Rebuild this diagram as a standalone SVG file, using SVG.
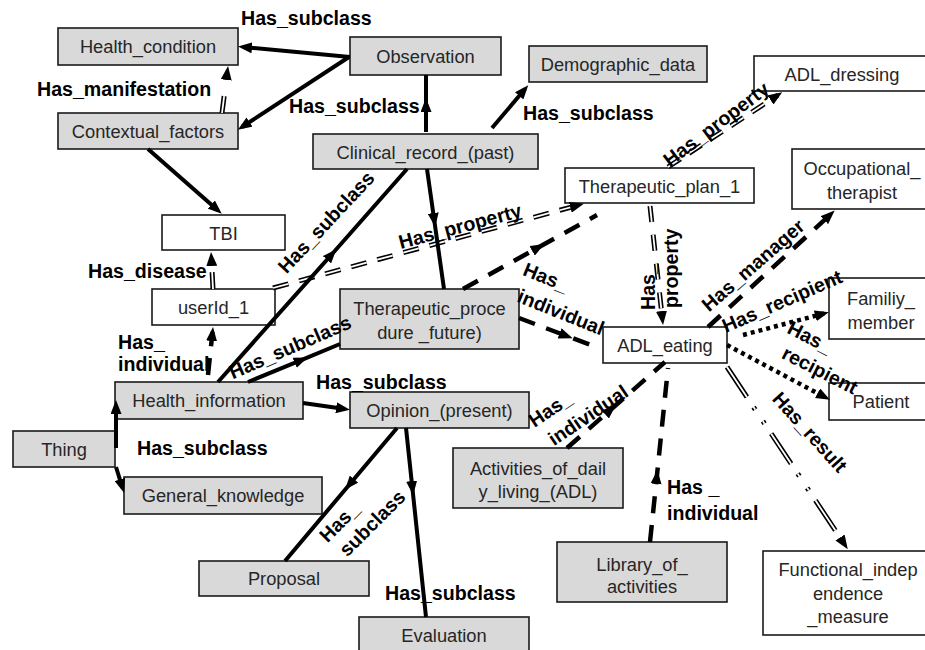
<svg xmlns="http://www.w3.org/2000/svg" width="925" height="650" viewBox="0 0 925 650">
<defs>
<marker id="a" viewBox="0 0 14 11" refX="9" refY="5.5" markerWidth="14" markerHeight="11" markerUnits="userSpaceOnUse" orient="auto"><path d="M0,0 L14,5.5 L0,11 z" fill="#000"/></marker>
<style>
.n rect{stroke:#1a1a1a;stroke-width:1.6}
.g rect{fill:#d9d9d9}
.w rect{fill:#fff}
.n text{font-family:"Liberation Sans",Arial,sans-serif;font-size:18.3px;fill:#262626;text-anchor:middle}
.lbl{font-family:"Liberation Sans",Arial,sans-serif;font-size:19.6px;font-weight:bold;fill:#000}
.c{text-anchor:middle}
.s{stroke:#000;stroke-width:4;fill:none}
.d{stroke:#000;stroke-width:4.5;fill:none;stroke-dasharray:17 12}
.dot{stroke:#000;stroke-width:4.5;fill:none;stroke-dasharray:4 4}
.dd{stroke:#000;stroke-width:5;fill:none}
.ddw{stroke:#fff;stroke-width:1.8;fill:none}
</style>
</defs>
<rect width="925" height="650" fill="#fff"/>

<g id="health_condition" class="n g"><rect x="58" y="28" width="180" height="37"/><text x="148" y="52.5">Health_condition</text></g>
<g id="contextual_factors" class="n g"><rect x="58" y="113" width="180" height="36"/><text x="148" y="137.5">Contextual_factors</text></g>
<g id="observation" class="n g"><rect x="350" y="37" width="151" height="38"/><text x="425.5" y="62.5">Observation</text></g>
<g id="demographic_data" class="n g"><rect x="529" y="46" width="178" height="36"/><text x="618" y="70.5">Demographic_data</text></g>
<g id="clinical_record" class="n g"><rect x="313" y="134" width="225" height="35"/><text x="425.5" y="158.5">Clinical_record_(past)</text></g>
<g id="adl_dressing" class="n w"><rect x="754" y="56" width="181" height="35"/><text x="842" y="80.5">ADL_dressing</text></g>
<g id="therapeutic_plan_1" class="n w"><rect x="565" y="168" width="189" height="35"/><text x="659.5" y="192.5">Therapeutic_plan_1</text></g>
<g id="occupational_therapist" class="n w"><rect x="792" y="149" width="143" height="60"/><text x="862" y="174.5">Occupational_</text><text x="862" y="198.5">therapist</text></g>
<g id="tbi" class="n w"><rect x="162" y="215" width="123" height="35"/><text x="223.5" y="239.5">TBI</text></g>
<g id="userid_1" class="n w"><rect x="152" y="289" width="123" height="36"/><text x="213.5" y="313.5">userId_1</text></g>
<g id="health_information" class="n g"><rect x="115" y="382" width="188" height="37"/><text x="209" y="406.5">Health_information</text></g>
<g id="thing" class="n g"><rect x="13" y="431" width="102" height="36"/><text x="64" y="455.5">Thing</text></g>
<g id="general_knowledge" class="n g"><rect x="124" y="477" width="198" height="37"/><text x="223" y="501.5">General_knowledge</text></g>
<g id="proposal" class="n g"><rect x="199" y="561" width="170" height="35"/><text x="284" y="584.5">Proposal</text></g>
<g id="therapeutic_procedure" class="n g"><rect x="340" y="289" width="179" height="60"/><text x="429.5" y="314.5">Therapeutic_proce</text><text x="429.5" y="338.5">dure _future)</text></g>
<g id="opinion" class="n g"><rect x="350" y="392" width="179" height="36"/><text x="439.5" y="416.5">Opinion_(present)</text></g>
<g id="adl_eating" class="n w"><rect x="603" y="327" width="124" height="36"/><text x="665" y="351.5">ADL_eating</text></g>
<g id="family_member" class="n w"><rect x="829" y="278" width="106" height="61"/><text x="881" y="304.5">Familiy_</text><text x="881" y="328.5">member</text></g>
<g id="patient" class="n w"><rect x="829" y="383" width="106" height="37"/><text x="881" y="407.5">Patient</text></g>
<g id="activities_of_daily_living" class="n g"><rect x="453" y="448" width="170" height="60"/><text x="538" y="474.5">Activities_of_dail</text><text x="538" y="497.5">y_living_(ADL)</text></g>
<g id="library_of_activities" class="n g"><rect x="557" y="542" width="170" height="60"/><text x="642" y="570.5">Library_of_</text><text x="642" y="592.5">activities</text></g>
<g id="functional_independence_measure" class="n w"><rect x="763" y="551" width="172" height="84"/><text x="848" y="575.5">Functional_indep</text><text x="848" y="599.5">endence</text><text x="848" y="622.5">_measure</text></g>
<g id="evaluation" class="n g"><rect x="359" y="617" width="170" height="36"/><text x="444" y="641.5">Evaluation</text></g>

<g id="connectors">
<path class="dd" d="M222,113 L227.4,71" stroke-dasharray="17 60"/>
<path class="ddw" d="M222,113 L227.4,71" stroke-dasharray="17 60" marker-end="url(#a)"/>
<path class="dd" d="M213,289 L211.3,257" stroke-dasharray="17 60"/>
<path class="ddw" d="M213,289 L211.3,257" stroke-dasharray="17 60" marker-end="url(#a)"/>
<path class="dd" d="M273,288 L579,205" stroke-dasharray="16 11"/>
<path class="ddw" d="M273,288 L579,205" stroke-dasharray="16 11" marker-end="url(#a)"/>
<path class="dd" d="M668,167 L778,95" stroke-dasharray="15 10"/>
<path class="ddw" d="M668,167 L778,95" stroke-dasharray="15 10" marker-end="url(#a)"/>
<path class="dd" d="M650,206 L662.5,320" stroke-dasharray="16 13"/>
<path class="ddw" d="M650,206 L662.5,320" stroke-dasharray="16 13" marker-end="url(#a)"/>
<path class="dd" d="M727,367 L845,545" stroke-dasharray="36 12 3 14 3 12"/>
<path class="ddw" d="M727,367 L845,545" stroke-dasharray="36 12 3 14 3 12" marker-end="url(#a)"/>
<path class="s" d="M350,57 L243,47" marker-end="url(#a)"/>
<path class="s" d="M349,57 L242,127" marker-end="url(#a)"/>
<path class="s" d="M426,132 L426,103 L426,75" marker-mid="url(#a)"/>
<path class="s" d="M492,128 L525,89" marker-end="url(#a)"/>
<path class="s" d="M148,149 L218,210.5" marker-end="url(#a)"/>
<path class="s" d="M218,382 L333,253 L407,169" marker-mid="url(#a)"/>
<path class="s" d="M427,169 L434.5,222 L444,289" marker-mid="url(#a)"/>
<path class="s" d="M248,382 L303,359.3 L340,344" marker-mid="url(#a)"/>
<path class="s" d="M303,403 L345,409" marker-end="url(#a)"/>
<path class="s" d="M116,448 L116,405" marker-end="url(#a)"/>
<path class="s" d="M116,467 L122.5,488" marker-end="url(#a)"/>
<path class="s" d="M397,428 L348.2,486 L285,561" marker-mid="url(#a)"/>
<path class="s" d="M406,428 L412.6,490 L426,617" marker-mid="url(#a)"/>
<path class="d" d="M208,375 L212.5,332" stroke-dasharray="18 14" marker-end="url(#a)"/>
<path class="d" d="M463,289 L540,246.5 L597,215" marker-mid="url(#a)"/>
<path class="d" d="M519,318 L568,336.5 L596,347" marker-mid="url(#a)"/>
<path class="d" d="M567,448 L612,408.5 L665,362" marker-mid="url(#a)"/>
<path class="d" d="M650,542 L657,475 L668,368" stroke-dasharray="22 14" marker-mid="url(#a)"/>
<path class="d" d="M708,327 L831,214" stroke-dasharray="28 12 4 12" marker-end="url(#a)"/>
<path class="dot" d="M743,335 L824,313.5" marker-end="url(#a)"/>
<path class="dot" d="M727,345 L825.5,397.5" marker-end="url(#a)"/>

<text class="lbl" x="241" y="25">Has_subclass</text>
<text class="lbl" x="37" y="96">Has_manifestation</text>
<text class="lbl" x="289" y="113">Has_subclass</text>
<text class="lbl" x="523" y="120">Has_subclass</text>
<text class="lbl" x="88" y="278">Has_disease</text>
<text class="lbl" x="118" y="349">Has_</text>
<text class="lbl" x="118" y="371">individual</text>
<text class="lbl c" transform="translate(326,222) rotate(-47)" y="7">Has_subclass</text>
<text class="lbl c" transform="translate(460,226) rotate(-15)" y="7">Has_property</text>
<text class="lbl c" transform="translate(290,347) rotate(-23.5)" y="7">Has_subclass</text>
<text class="lbl" x="316" y="389">Has_subclass</text>
<text class="lbl" x="137" y="455">Has_subclass</text>
<text class="lbl c" transform="translate(339,522) rotate(-45)" y="7">Has_</text>
<text class="lbl c" transform="translate(372,523) rotate(-45)" y="7">subclass</text>
<text class="lbl" x="385" y="600">Has_subclass</text>
<text class="lbl c" transform="translate(716,124) rotate(-37)" y="7">Has_property</text>
<text class="lbl" transform="translate(655,310) rotate(-90)"><tspan x="0" y="0">Has_</tspan><tspan x="2" y="23">property</tspan></text>
<text class="lbl c" transform="translate(753,265) rotate(-41)" y="7">Has_manager</text>
<text class="lbl c" transform="translate(782,301) rotate(-23.5)" y="7">Has_recipient</text>
<text class="lbl c" transform="translate(810,337) rotate(27)" y="7">Has_</text>
<text class="lbl c" transform="translate(820,370) rotate(27)" y="7">recipient</text>
<text class="lbl c" transform="translate(810,432) rotate(48)" y="7">Has_result</text>
<text class="lbl c" transform="translate(546,277) rotate(22)" y="7">Has_</text>
<text class="lbl c" transform="translate(561,312) rotate(22)" y="7">individual</text>
<text class="lbl c" transform="translate(550,409) rotate(-34)" y="7">Has_</text>
<text class="lbl c" transform="translate(588,415) rotate(-34)" y="7">individual</text>
<text class="lbl" x="667" y="494">Has _</text>
<text class="lbl" x="667" y="520">individual</text>
</g>
</svg>
